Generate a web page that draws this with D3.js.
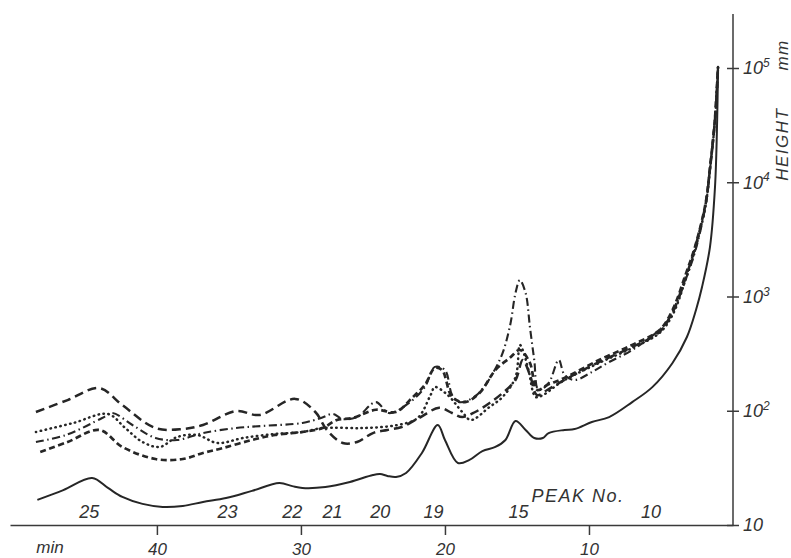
<!DOCTYPE html>
<meta charset="utf-8">
<style>
    body { margin: 0;
           background: #fff; }
    .axis path, .axis line { stroke: #3a3a3a;
                             stroke-width: 1.5px; }
    .axis text, .lbl { font-family: 'Liberation Sans', sans-serif;
                       font-style: italic;
                       fill: #333; }
    .curve { fill: none;
             stroke: #262626;
             stroke-linejoin: round; }
    .solid { stroke-width: 2px; }
    .long-dash { stroke-width: 2.5px;
                 stroke-dasharray: 9 5; }
    .dotted { stroke-width: 2.5px;
              stroke-linecap: round;
              stroke-dasharray: 0.5 4.5; }
    .dash-dot { stroke-width: 2.1px;
                stroke-dasharray: 8 3.5 1.5 3.5; }
    .short-dash { stroke-width: 2.7px;
                  stroke-dasharray: 6 3.5; }
</style>
<body>
<div id="chart"></div>
<script src="https://d3js.org/d3.v7.min.js"></script>
<script>
    var width = 791,
        height = 558;

    // [time (min), height (mm)]
    var solid = [[48.3, 16.6], [46.5, 20.2], [44.5, 25.8], [43.4, 21.1], [42.4, 17.6], [41.0, 15.3],
                 [39.6, 14.4], [38.2, 14.7], [36.8, 15.9], [35.2, 17.2], [33.4, 19.9], [31.5, 23.3],
                 [30.6, 21.9], [29.9, 21.1], [28.3, 21.5], [26.6, 23.8], [25.0, 27.4], [24.5, 27.9],
                 [24.0, 26.9], [23.4, 26.3], [22.7, 28.5], [21.6, 42.7], [20.5, 75.0], [20.0, 55.5],
                 [19.1, 34.9], [18.3, 37.1], [17.4, 44.4], [16.5, 48.2], [15.8, 55.5], [15.1, 81.3],
                 [14.4, 67.9], [13.8, 57.7], [13.2, 57.7], [12.8, 63.8], [11.7, 67.9], [11.0, 69.2],
                 [9.8, 79.7], [8.6, 88.1], [7.0, 119], [5.6, 161], [4.2, 262], [3.2, 442],
                 [2.57, 762], [2.15, 1211], [1.6, 2710], [1.25, 9080], [1.1, 35100], [1.04, 102000]];

    var longDash = [[48.4, 97.5], [46.2, 124], [44.0, 158], [42.4, 112], [40.1, 70.6], [38.2, 69.2],
                    [36.8, 75.0], [34.5, 99.5], [32.9, 91.8], [30.4, 127], [29.0, 97.5], [28.2, 67.9],
                    [27.1, 52.2], [26.1, 53.3], [25.0, 63.8], [24.0, 67.9], [23.0, 72.1], [21.8, 86.4],
                    [20.4, 106], [19.5, 95.5], [18.8, 88.1], [17.9, 97.5], [16.9, 117], [16.0, 143],
                    [15.1, 186], [14.6, 278], [14.1, 206], [13.6, 137], [12.9, 152], [11.7, 186],
                    [9.3, 267], [7.0, 361], [5.1, 489], [4.2, 732], [3.3, 1452], [2.6, 2767],
                    [1.9, 6457], [1.6, 13100], [1.25, 35800], [1.04, 102000]];

    var dotted = [[48.4, 65.2], [45.8, 78.2], [43.4, 93.7], [42.2, 70.6], [41.0, 53.3], [39.8, 48.2],
                  [38.6, 58.9], [37.2, 61.4], [35.8, 52.2], [34.0, 57.8], [31.8, 62.6], [29.9, 65.2],
                  [28.5, 70.6], [25.7, 70.6], [23.3, 75.0], [21.9, 86.4], [21.0, 137], [20.7, 161],
                  [19.8, 137], [18.8, 97.5], [18.2, 83.0], [16.9, 108], [16.0, 132], [15.1, 197],
                  [14.8, 377], [14.6, 340], [14.2, 227], [13.7, 132], [13.2, 137], [11.9, 179],
                  [9.3, 262], [7.0, 354], [5.1, 480], [4.2, 689], [3.3, 1393], [2.6, 2660],
                  [1.9, 6324], [1.6, 12800], [1.25, 35100], [1.04, 102000]];

    var dashDot = [[48.4, 53.3], [46.3, 61.4], [43.8, 86.4], [43.1, 95.5], [41.7, 75.0], [40.1, 57.8],
                   [38.6, 55.5], [36.8, 63.8], [34.5, 70.6], [32.7, 73.6], [29.9, 78.2], [28.6, 86.4],
                   [27.8, 93.7], [27.1, 84.7], [26.1, 88.1], [24.8, 119], [23.9, 95.5], [22.5, 117],
                   [21.4, 161], [20.7, 242], [20.0, 227], [19.5, 137], [19.0, 119], [17.8, 137],
                   [16.2, 278], [15.5, 541], [15.1, 1074], [14.8, 1393], [14.4, 1074], [14.1, 541],
                   [13.8, 278], [13.5, 152], [12.8, 175], [12.1, 278], [11.7, 206], [11.0, 186],
                   [9.8, 218], [8.6, 267], [7.0, 340], [4.9, 541], [4.2, 717], [3.3, 1393],
                   [2.6, 2553], [1.9, 6324], [1.6, 12800], [1.25, 35100], [1.04, 102000]];

    var shortDash = [[48.1, 43.6], [46.2, 53.3], [44.0, 67.9], [42.4, 48.2], [40.1, 37.8], [38.2, 37.8],
                     [36.8, 42.7], [35.4, 47.2], [33.4, 55.5], [31.8, 61.4], [29.9, 65.2], [28.5, 70.6],
                     [27.5, 83.0], [26.4, 86.4], [24.8, 102], [23.4, 97.5], [22.3, 129], [21.4, 168],
                     [20.7, 237], [20.2, 227], [19.5, 132], [18.6, 119], [17.6, 143], [16.5, 227],
                     [15.5, 290], [14.8, 340], [14.1, 262], [13.6, 152], [12.9, 168], [11.7, 194],
                     [9.3, 278], [7.0, 377], [5.1, 509], [4.2, 762], [3.3, 1542], [2.6, 2825],
                     [1.9, 6577], [1.6, 13300], [1.25, 36500], [1.04, 102000]];

    var xTicks = [40, 30, 20, 10];
    var yTicks = [10, 100, 1000, 10000, 100000];

    var peakNames = ["25", "23", "22", "21", "20", "19", "15", "10"];
    var peakTimes = [44.7, 35.1, 30.6, 27.8, 24.5, 20.8, 14.9, 5.7];

    var svg = d3.select("#chart").append("svg")
        .attr("width", width)
        .attr("height", height);

    var x = d3.scaleLinear()
        .domain([50.2, 0])
        .range([10, 733]);

    var y = d3.scaleLog()
        .domain([10, 100000])
        .range([525, 68]);

    var line = d3.line()
        .x(d => x(d[0]))
        .y(d => y(d[1]))
        .curve(d3.curveCatmullRom.alpha(0.5));

    // x axis
    var xAxis = svg.append("g")
        .attr("class", "axis")
        .attr("transform", "translate(0," + y(10) + ")")
        .call(d3.axisBottom(x).tickValues(xTicks).tickSize(10).tickSizeOuter(0).tickPadding(6));
    xAxis.selectAll("text")
        .attr("font-size", "17px")
        .attr("dy", "0.82em");

    // y axis, drawn up past 10^5
    var yAxis = svg.append("g")
        .attr("class", "axis")
        .attr("transform", "translate(" + x(0) + ",0)")
        .call(d3.axisRight(y).tickValues(yTicks).tickSize(6).tickSizeOuter(0).tickPadding(4));
    yAxis.select(".domain").remove();
    yAxis.append("line")
        .attr("y1", y(10))
        .attr("y2", 14);
    yAxis.selectAll(".tick line").attr("x1", -6);
    yAxis.selectAll(".tick text")
        .attr("font-size", "18px")
        .text("10")
        .filter(d => d > 10)
        .append("tspan")
        .attr("dy", "-0.6em")
        .attr("font-size", "12px")
        .text(d => Math.round(Math.log10(d)));

    svg.append("text")
        .attr("class", "lbl")
        .attr("x", 50)
        .attr("y", 553)
        .attr("text-anchor", "middle")
        .attr("font-size", "17px")
        .text("min");

    svg.append("text")
        .attr("class", "lbl")
        .attr("transform", "translate(788,110) rotate(-90)")
        .attr("text-anchor", "middle")
        .attr("font-size", "17px")
        .attr("letter-spacing", "1.5px")
        .text("HEIGHT\u2003\u2003mm");

    // curves
    var series = [
        {data: solid, cls: "solid"},
        {data: longDash, cls: "long-dash"},
        {data: dotted, cls: "dotted"},
        {data: dashDot, cls: "dash-dot"},
        {data: shortDash, cls: "short-dash"}
    ];

    svg.selectAll(".curve")
        .data(series)
        .enter().append("path")
        .attr("class", d => "curve " + d.cls)
        .attr("d", d => line(d.data));

    // peak numbers
    svg.selectAll(".peak")
        .data(peakNames)
        .enter().append("text")
        .attr("class", "lbl peak")
        .attr("x", (d, i) => x(peakTimes[i]))
        .attr("y", 518)
        .attr("text-anchor", "middle")
        .attr("font-size", "18px")
        .text(d => d);

    svg.append("text")
        .attr("class", "lbl")
        .attr("x", 578)
        .attr("y", 502)
        .attr("text-anchor", "middle")
        .attr("font-size", "18px")
        .attr("letter-spacing", "1.5px")
        .text("PEAK No.");
</script>
